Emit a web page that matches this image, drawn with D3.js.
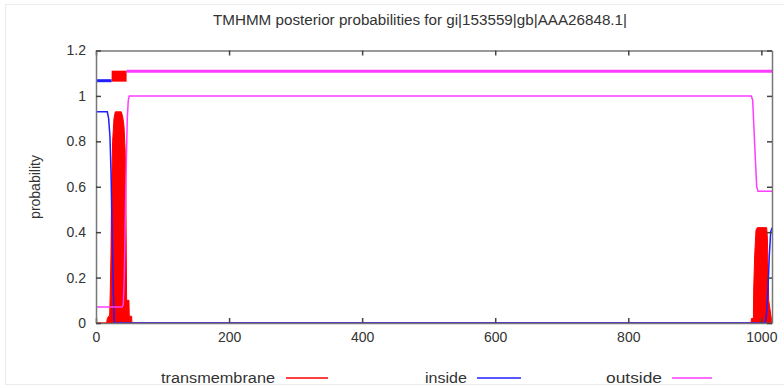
<!DOCTYPE html>
<html>
<head>
<meta charset="utf-8">
<script src="https://cdn.jsdelivr.net/npm/d3@7"></script>
<style>
  body { margin: 0; background: #fff; }
  svg text { font-family: "Liberation Sans", Arial, sans-serif; fill: #333; }
</style>
</head>
<body>
<svg id="chart" width="784" height="388"></svg>
<script>
// sequence position / probability
const tmPos = [0, 16, 17, 19, 20.5, 21.5, 22.5, 23.5, 25, 27, 29, 38, 40, 42, 44, 44.8, 45.5, 46, 49.5, 50, 53.5, 54,
               983, 984.5, 985, 988, 988.5, 990, 992, 994, 1008, 1009, 1010, 1011, 1016];
const tmProb = [0, 0, 0.02, 0.03, 0.03, 0.14, 0.3, 0.6, 0.8, 0.9, 0.93, 0.93, 0.91, 0.87, 0.75, 0.6, 0.3, 0.1, 0.1, 0.03, 0.03, 0,
                0, 0, 0.02, 0.02, 0.15, 0.3, 0.41, 0.42, 0.42, 0.38, 0.25, 0.1, 0];

const insidePos = [0, 17, 19, 21, 22.5, 24.5, 26, 27.5, 1006, 1008, 1010, 1012, 1014, 1016];
const insideProb = [0.93, 0.93, 0.9, 0.82, 0.67, 0.37, 0.15, 0, 0, 0.05, 0.15, 0.3, 0.4, 0.42];

const outsidePos = [0, 39, 41, 42.5, 44, 45.5, 47, 48.5, 50, 985, 987, 989, 991, 993, 995, 1016];
const outsideProb = [0.07, 0.07, 0.08, 0.2, 0.45, 0.7, 0.9, 0.98, 1.0, 1.0, 0.98, 0.85, 0.72, 0.6, 0.58, 0.58];

// predicted topology drawn above the curves
const topoNames = ["inside", "transmembrane", "outside"];
const topoStart = [0, 23.5, 46];
const topoEnd = [23.5, 46, 1016];
const topoLevel = [1.067, 1.087, 1.109];

const xTicks = [0, 200, 400, 600, 800, 1000];
const yTicks = [0, 0.2, 0.4, 0.6, 0.8, 1, 1.2];
const legendNames = ["transmembrane", "inside", "outside"];

const colors = { transmembrane: "#ff0000", inside: "#1f1fff", outside: "#ff3cff" };

const svg = d3.select("#chart");

// faint border around the picture
svg.append("rect").attr("x", 5.5).attr("y", 4.5).attr("width", 790).attr("height", 380)
    .attr("fill", "none").attr("stroke", "#ececec");

const x = d3.scaleLinear().domain([0, 1016]).range([96, 772]);
const y = d3.scaleLinear().domain([0, 1.2]).range([323, 50.5]);

// transmembrane as a filled area (impulses in the original)
const tmData = tmPos.map((p, i) => [p, tmProb[i]]);
svg.append("path")
    .datum(tmData)
    .attr("fill", colors.transmembrane)
    .attr("stroke", colors.transmembrane)
    .attr("stroke-width", 1)
    .attr("d", d3.area().x(d => x(d[0])).y0(y(0)).y1(d => y(d[1])));

const line = d3.line().x(d => x(d[0])).y(d => y(d[1]));

svg.append("path")
    .datum(insidePos.map((p, i) => [p, insideProb[i]]))
    .attr("fill", "none")
    .attr("stroke", colors.inside)
    .attr("stroke-width", 1.5)
    .attr("d", line);

svg.append("path")
    .datum(outsidePos.map((p, i) => [p, outsideProb[i]]))
    .attr("fill", "none")
    .attr("stroke", colors.outside)
    .attr("stroke-width", 1.5)
    .attr("d", line);

// topology bar
const topoWidth = { inside: 3, transmembrane: 11, outside: 3 };
topoNames.forEach((n, i) => {
    svg.append("line")
        .attr("x1", x(topoStart[i])).attr("x2", x(topoEnd[i]))
        .attr("y1", y(topoLevel[i])).attr("y2", y(topoLevel[i]))
        .attr("stroke", colors[n])
        .attr("stroke-width", topoWidth[n]);
});

// frame with inward ticks on all four sides
const frame = svg.append("g").attr("class", "frame");
frame.append("g").attr("transform", `translate(0,${y(0)})`)
    .call(d3.axisBottom(x).tickValues(xTicks).tickSizeInner(-5).tickSizeOuter(0).tickPadding(9).tickFormat(d3.format("d")));
frame.append("g").attr("transform", `translate(0,${y(1.2)})`)
    .call(d3.axisTop(x).tickValues(xTicks).tickSizeInner(-5).tickSizeOuter(0).tickFormat(""));
frame.append("g").attr("transform", `translate(${x(0)},0)`)
    .call(d3.axisLeft(y).tickValues(yTicks).tickSizeInner(-5).tickSizeOuter(0).tickPadding(10).tickFormat(d => d3.format("")(d)));
frame.append("g").attr("transform", `translate(${x(1016)},0)`)
    .call(d3.axisRight(y).tickValues(yTicks).tickSizeInner(-5).tickSizeOuter(0).tickFormat(""));

frame.selectAll(".domain").attr("stroke", "#777").attr("stroke-width", 1.5);
frame.selectAll(".tick line").attr("stroke", "#444").attr("stroke-width", 1.5);
frame.selectAll(".tick text").attr("font-size", 14).attr("fill", "#333")
    .attr("font-family", "Liberation Sans, Arial, sans-serif");

// title
svg.append("text")
    .attr("x", 420).attr("y", 25)
    .attr("text-anchor", "middle")
    .attr("font-size", 14)
    .attr("textLength", 414).attr("lengthAdjust", "spacingAndGlyphs")
    .text("TMHMM posterior probabilities for gi|153559|gb|AAA26848.1|");

// y label
svg.append("text")
    .attr("transform", "translate(40,187) rotate(-90)")
    .attr("text-anchor", "middle")
    .attr("font-size", 14)
    .text("probability");

// legend
const legendTextEnd = [275, 467, 662];
const legendTextLen = [114, 42, 56];
const legendLineStart = [286, 477, 672];
const legendLineEnd = [328, 521, 712];
legendNames.forEach((n, i) => {
    svg.append("text")
        .attr("x", legendTextEnd[i]).attr("y", 383)
        .attr("text-anchor", "end")
        .attr("font-size", 14)
        .attr("textLength", legendTextLen[i]).attr("lengthAdjust", "spacingAndGlyphs")
        .text(n);
    svg.append("line")
        .attr("x1", legendLineStart[i]).attr("x2", legendLineEnd[i])
        .attr("y1", 378).attr("y2", 378)
        .attr("stroke", colors[n]).attr("stroke-width", 1.5);
});
</script>
</body>
</html>
